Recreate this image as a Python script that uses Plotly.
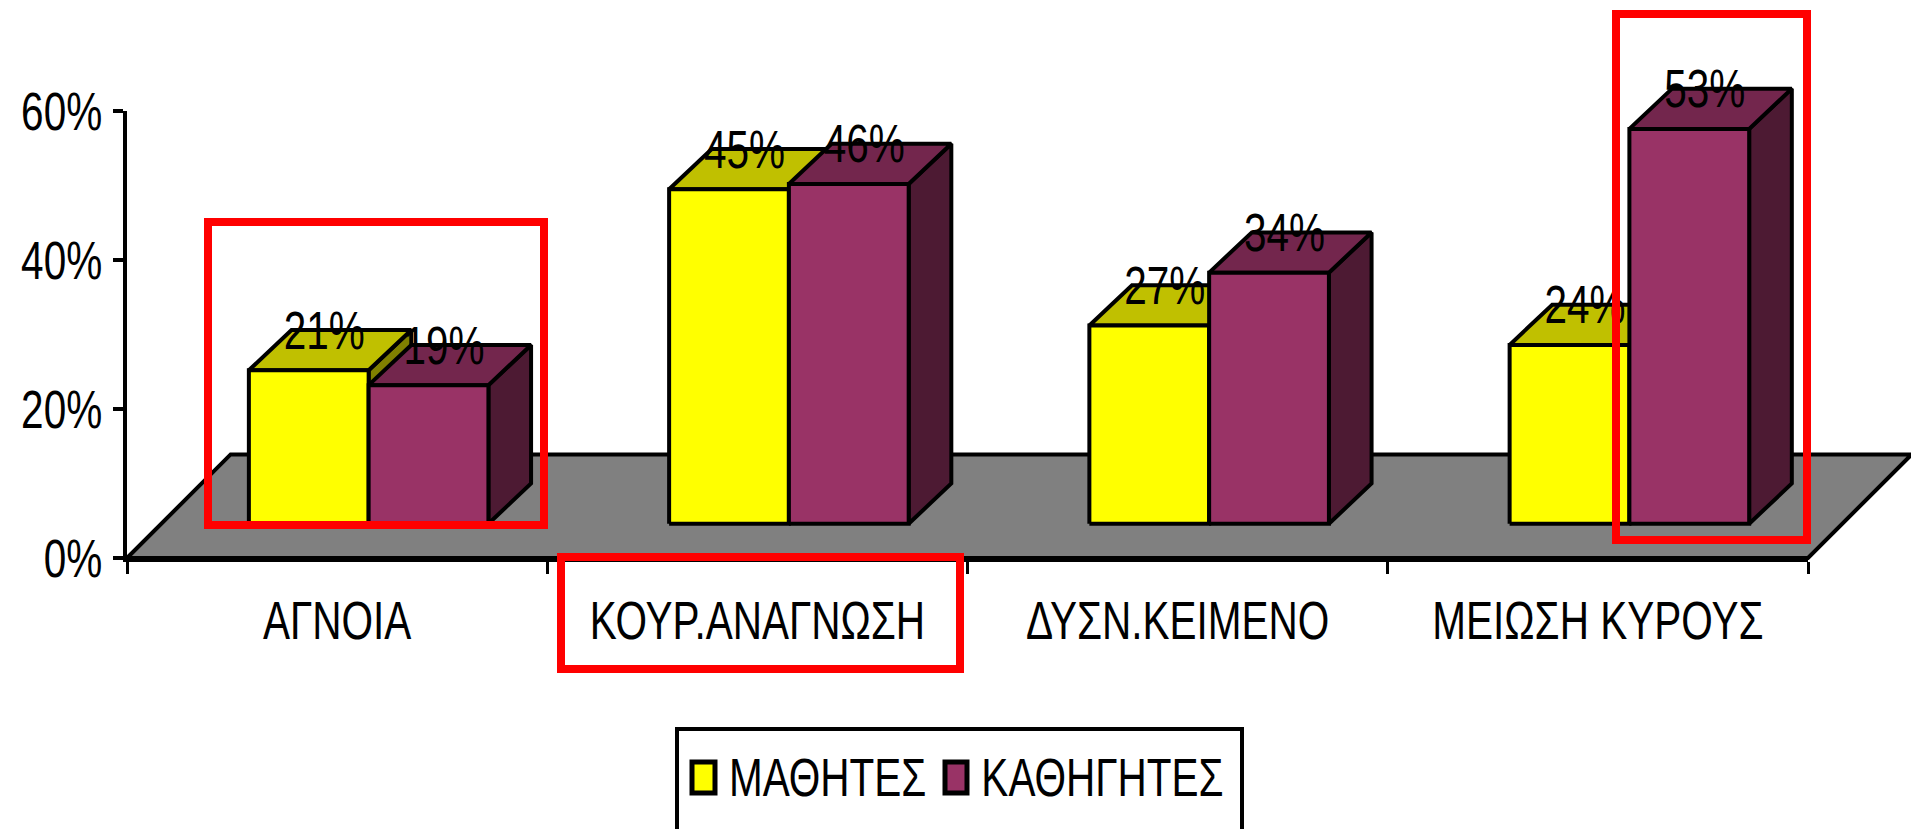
import plotly.graph_objects as go

categories = ["ΑΓΝΟΙΑ", "ΚΟΥΡ.ΑΝΑΓΝΩΣΗ", "ΔΥΣΝ.ΚΕΙΜΕΝΟ", "ΜΕΙΩΣΗ ΚΥΡΟΥΣ"]
mathites = [20.6, 44.9, 26.6, 24.0]
kathigites = [18.6, 45.6, 33.7, 53.0]
series_names = ["ΜΑΘΗΤΕΣ", "ΚΑΘΗΓΗΤΕΣ"]
y_ticks = [0, 20, 40, 60]

FONT = "Liberation Sans"
FS = 54
CONDENSE = 0.75
W, H = 1911, 829
L, R, T, B = 127, 1808, 111, 558   # visible axes box in page pixels
X_SCALE = (R - L) / 4
Y_SCALE = (B - T) / 60

# 3D look, in axis units
FLOOR_DX, FLOOR_DY = 0.2466, 13.9
BASE = 4.6
BAR_W = 0.285
SHIFT = 0.575
DEPTH_X, DEPTH_Y = 0.1015, 5.4
LW = 4

palette = [
    dict(front="#FFFF00", top="#C0C000", side="#808000"),
    dict(front="#993366", top="#73264D", side="#4D1A33"),
]

fig = go.Figure()

# anchors the visible axes
fig.add_trace(go.Scatter(x=[0, 4], y=[0, 60], mode="none", xaxis="x", yaxis="y",
                         showlegend=False, hoverinfo="skip"))


def poly(xs, ys, fill, lw=LW):
    fig.add_trace(go.Scatter(
        x=xs + xs[:1], y=ys + ys[:1], mode="lines", fill="toself", fillcolor=fill,
        line=dict(color="black", width=lw), xaxis="x2", yaxis="y2", showlegend=False,
        hoverinfo="skip"))


# floor
poly([0, 4, 4 + FLOOR_DX, FLOOR_DX], [0, 0, FLOOR_DY, FLOOR_DY], "#808080")

for s, vals in enumerate([mathites, kathigites]):
    c = palette[s]
    for i, v in enumerate(vals):
        x0 = i + SHIFT + (s - 1) * BAR_W
        x1 = x0 + BAR_W
        y0, y1 = BASE, BASE + v
        poly([x1, x1 + DEPTH_X, x1 + DEPTH_X, x1],
             [y0, y0 + DEPTH_Y, y1 + DEPTH_Y, y1], c["side"])
        poly([x0, x1, x1 + DEPTH_X, x0 + DEPTH_X],
             [y1, y1, y1 + DEPTH_Y, y1 + DEPTH_Y], c["top"])
        poly([x0, x1, x1, x0], [y0, y0, y1, y1], c["front"])
    fig.add_trace(go.Scatter(
        x=[i + SHIFT + (s - 1) * BAR_W + BAR_W / 2 + 0.037 for i in range(len(vals))],
        y=[BASE + v + 4.7 for v in vals],
        mode="text", text=[f"{round(v)}%" for v in vals], textposition="middle center",
        textfont=dict(family=FONT, size=FS, color="black"),
        xaxis="x2", yaxis="y2", showlegend=False, hoverinfo="skip"))


def px(x):
    return x / W


def py(y):
    return 1 - y / H


def rect(x0, y0, x1, y1, line, width, fill=None):
    fig.add_shape(type="rect", xref="paper", yref="paper",
                  x0=px(x0), x1=px(x1), y0=py(y0), y1=py(y1),
                  line=dict(color=line, width=width), fillcolor=fill, layer="above")


# highlight frames
rect(208, 222, 544, 525, "#FF0000", 8)
rect(561, 557, 960, 669, "#FF0000", 8)
rect(1616, 14, 1807, 540, "#FF0000", 8)

# legend
rect(677, 729, 1242, 850, "black", 4, "white")
rect(692, 762, 715, 793, "black", 5, palette[0]["front"])
rect(945, 762, 967, 793, "black", 5, palette[1]["front"])
for name, xpos in zip(series_names, [827, 1102]):
    fig.add_annotation(text=name, xref="paper", yref="paper", x=px(xpos), y=py(777),
                       xanchor="center", yanchor="middle", showarrow=False,
                       font=dict(family=FONT, size=FS, color="black"))

fig.update_layout(
    width=W, height=H, autosize=False,
    margin=dict(l=0, r=0, t=0, b=0, pad=0),
    paper_bgcolor="white", plot_bgcolor="rgba(0,0,0,0)", showlegend=False,
    font=dict(family=FONT, size=FS, color="black"),
    xaxis=dict(domain=[L / W, R / W], range=[0, 4], anchor="y",
               tickvals=[i + 0.5 for i in range(len(categories))], tickangle=0,
               ticktext=categories, ticks="", ticklen=0, showgrid=False, zeroline=False,
               showline=True, linecolor="black", linewidth=4, ticklabelstandoff=12,
               automargin=False,
               minor=dict(tick0=0, dtick=1, ticks="outside", ticklen=12, tickwidth=3,
                          tickcolor="black", showgrid=False)),
    yaxis=dict(domain=[1 - B / H, 1 - T / H], range=[0, 60], anchor="x",
               tickvals=y_ticks, ticktext=[f"{t}%" for t in y_ticks], automargin=False,
               ticks="outside", ticklen=10, tickwidth=4, tickcolor="black", showgrid=False,
               zeroline=False, showline=True, linecolor="black", linewidth=4),
    # same scale as the visible axes, stretched over the whole page
    xaxis2=dict(domain=[0, 1], range=[-L / X_SCALE, (W - L) / X_SCALE], visible=False,
                anchor="y2"),
    yaxis2=dict(domain=[0, 1], range=[-(H - B) / Y_SCALE, B / Y_SCALE], visible=False,
                anchor="x2"),
)

# full-bleed page, and the reference lettering is condensed horizontally
post = """
document.body.style.margin = '0';
document.body.style.overflow = 'hidden';
var gd = document.getElementById('{plot_id}');
gd.querySelectorAll('svg text').forEach(function (t) {
  if (!t.textContent) return;
  var n = t.getComputedTextLength();
  t.setAttribute('lengthAdjust', 'spacingAndGlyphs');
  t.setAttribute('textLength', (n * %s).toFixed(1));
});
""" % CONDENSE

fig.write_html("out.html", post_script=post, config={"displayModeBar": False})
